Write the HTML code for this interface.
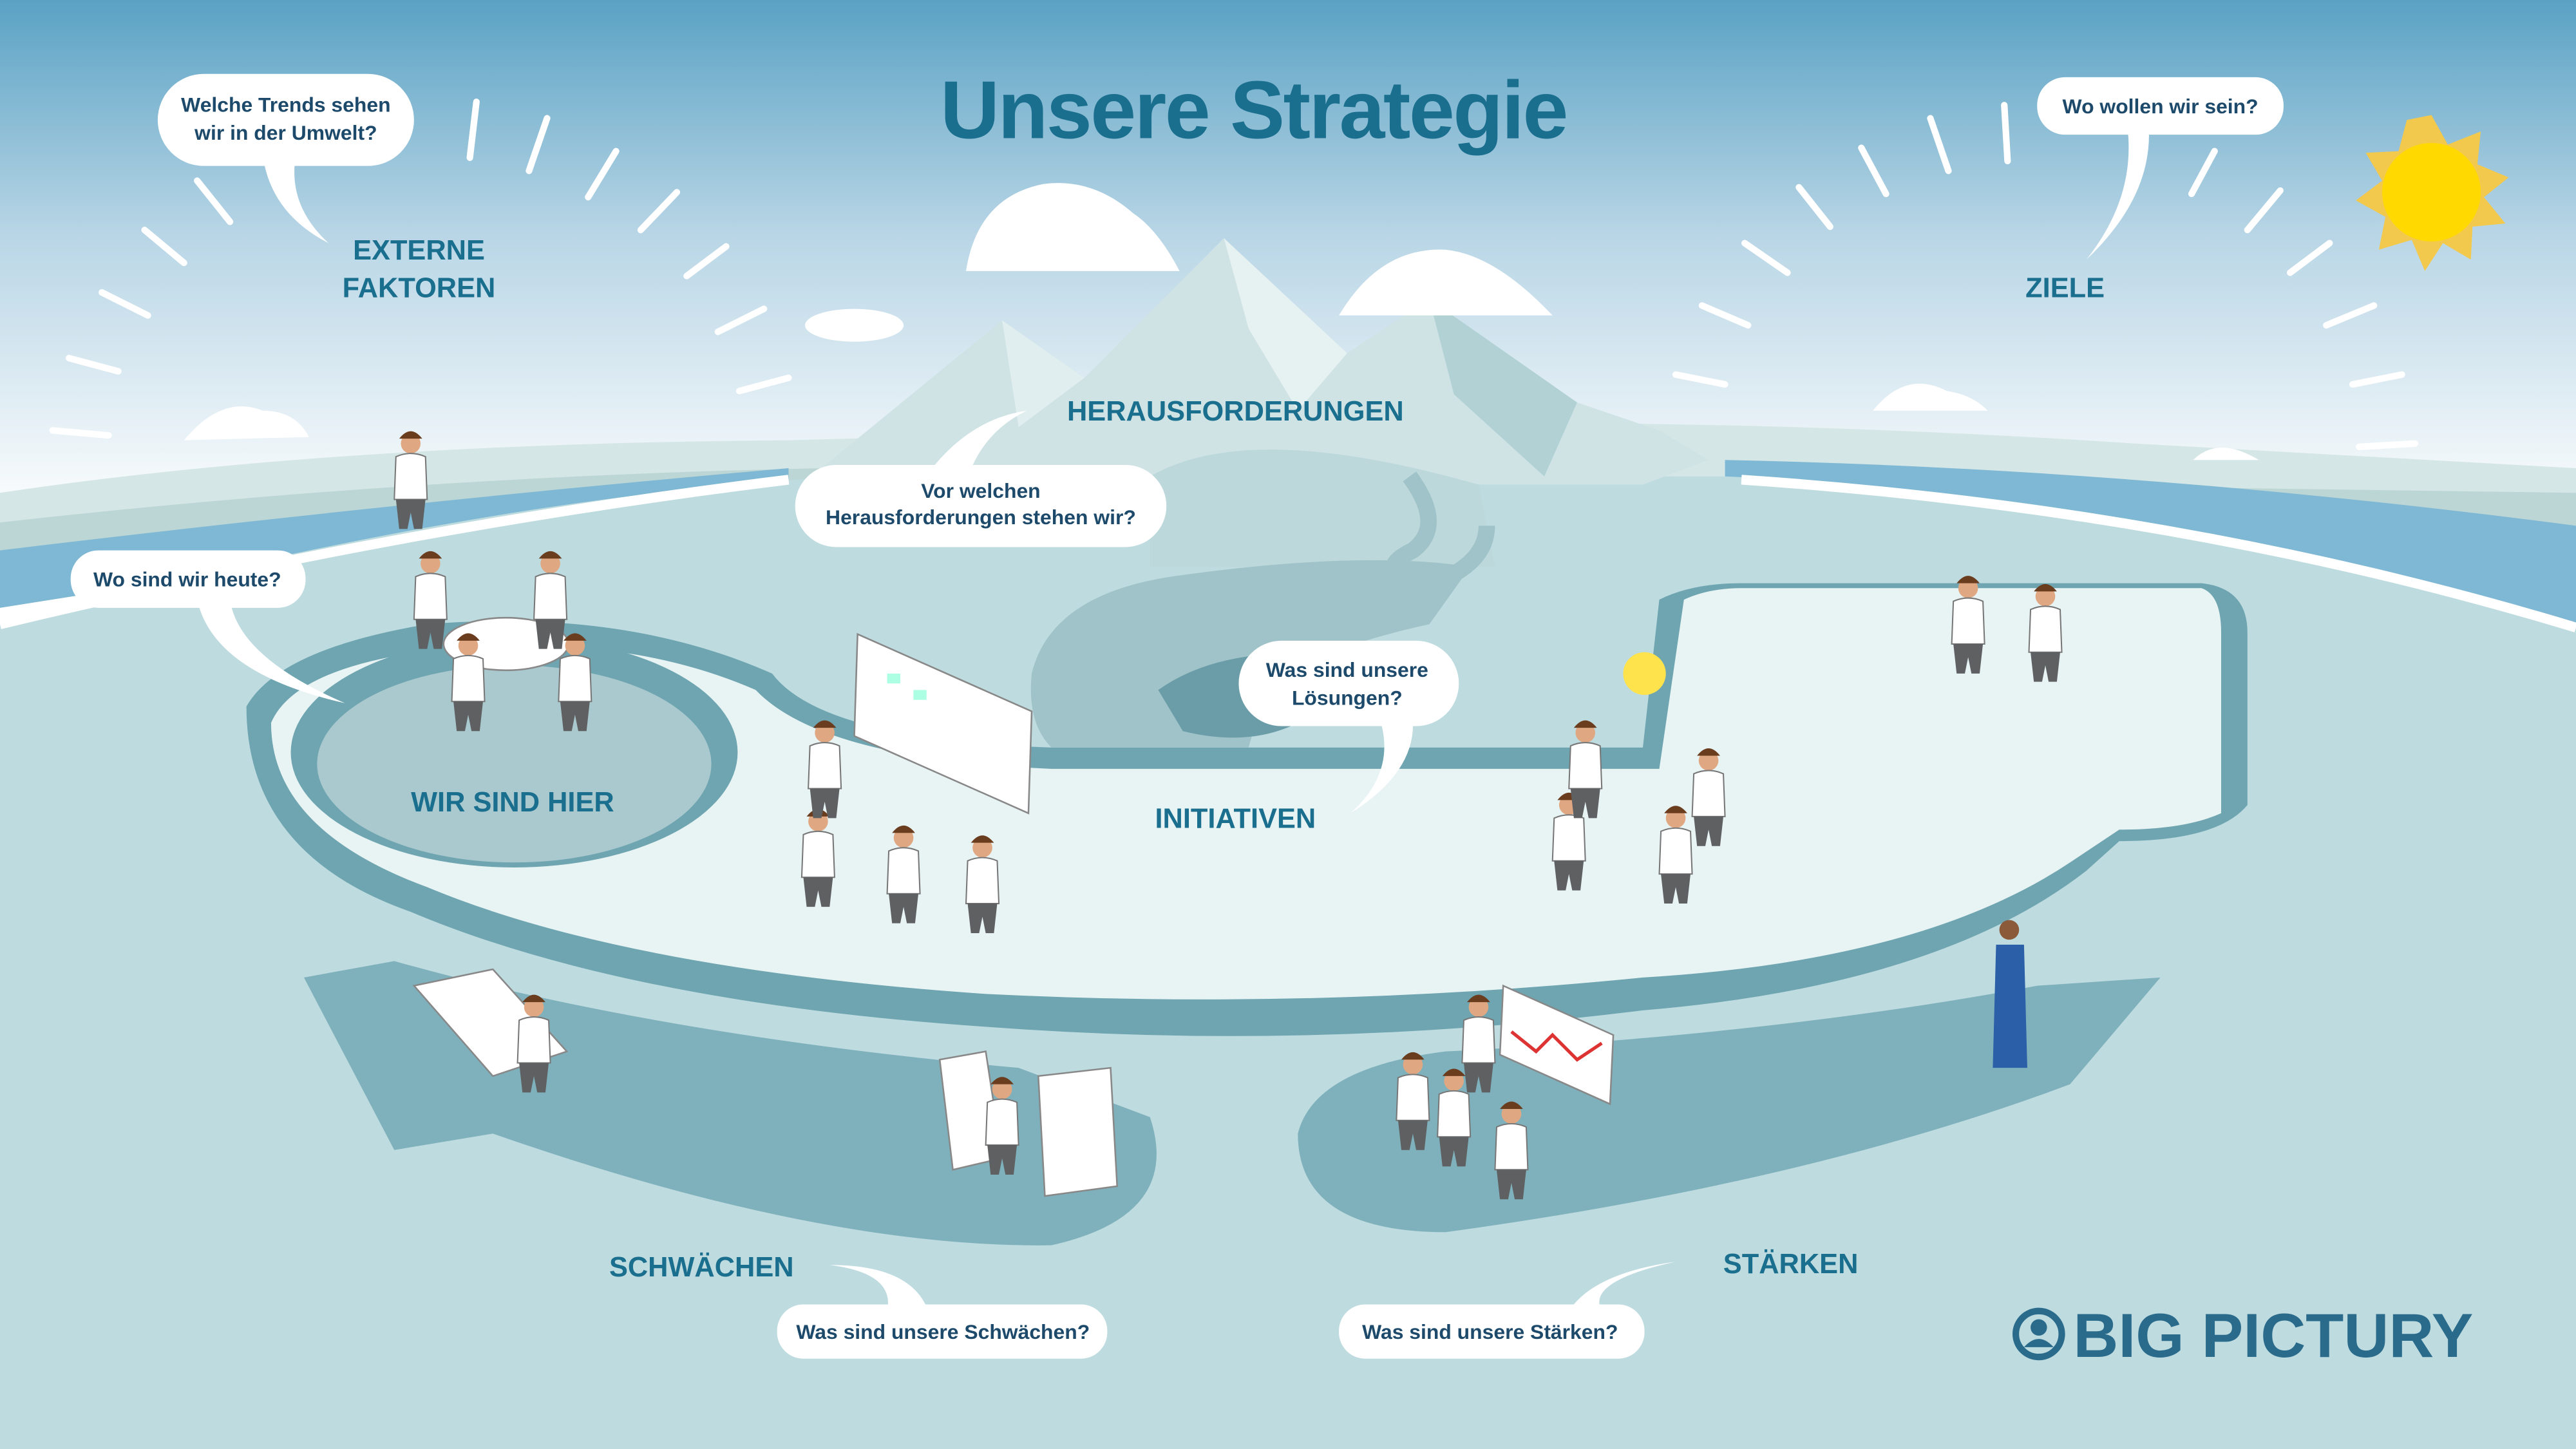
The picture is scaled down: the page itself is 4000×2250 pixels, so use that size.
<!DOCTYPE html>
<html><head><meta charset="utf-8"><style>
html,body{margin:0;padding:0;width:4000px;height:2250px;overflow:hidden}
svg{display:block}
text{font-family:"Liberation Sans",sans-serif}
</style></head><body>
<svg width="4000" height="2250" viewBox="0 0 1568 882" xmlns="http://www.w3.org/2000/svg">
<defs>
<linearGradient id="sky" x1="0" y1="0" x2="0" y2="1">
<stop offset="0" stop-color="#5aa2c4"/><stop offset="0.45" stop-color="#b9d6e6"/><stop offset="1" stop-color="#ffffff"/>
</linearGradient>
<g id="p">
<circle cx="0" cy="-52" r="6" fill="#e0a882"/>
<path d="M-7 -55 Q0 -64 7 -55Z" fill="#6b3d1f"/>
<path d="M-9 -44 Q0 -48 9 -44 L10 -18 L-10 -18Z" fill="#fff" stroke="#777" stroke-width="0.8"/>
<path d="M-9 -18 L9 -18 L7 0 L2 0 L0 -10 L-2 0 L-7 0Z" fill="#5f6062"/>
</g>
</defs>
<rect width="1568" height="320" fill="url(#sky)"/>
<path d="M0 300 Q200 270 480 268 L700 262 Q1000 250 1300 270 L1568 285 L1568 340 L0 340Z" fill="#d5e6e6"/>
<path d="M0 318 Q250 290 500 285 L1568 300 L1568 340 L0 340Z" fill="#bcd6d6"/>
<path d="M0 335 Q250 305 480 285 L480 300 Q250 330 0 370Z" fill="#7fb8d4"/>
<path d="M1050 280 Q1300 285 1568 320 L1568 380 Q1300 320 1050 300Z" fill="#7fb8d4"/>
<path d="M0 380 Q300 300 520 290 L1050 290 Q1300 300 1568 380 L1568 882 L0 882Z" fill="#bedbdf"/>
<path d="M0 380 Q250 320 480 292" stroke="#fff" stroke-width="6" fill="none"/>
<path d="M1060 292 Q1330 310 1568 382" stroke="#fff" stroke-width="6" fill="none"/>
<!-- mountains -->
<path d="M500 285 L610 195 L660 230 L745 145 L820 215 L870 182 L960 245 L1010 262 L1040 280 L1000 295 L500 295Z" fill="#cfe3e5"/>
<path d="M745 145 L820 215 L790 250 L760 200Z" fill="#e6f1f2"/>
<path d="M870 182 L960 245 L940 290 L885 240Z" fill="#b2d1d5"/>
<path d="M610 195 L660 230 L620 260Z" fill="#e0eeef"/>
<path d="M700 290 Q760 255 900 295 L910 345 L700 345Z" fill="#bcd8db"/>
<g fill="#fff">
<path d="M588 165 Q595 120 635 112 Q665 108 690 130 Q705 140 718 165Z"/>
<path d="M815 192 Q840 150 880 152 Q910 155 945 192Z"/>
<ellipse cx="520" cy="198" rx="30" ry="10"/>
<path d="M112 268 Q135 240 160 250 Q180 250 188 266Z"/>
<path d="M1140 250 Q1160 225 1185 238 Q1200 240 1210 250Z"/>
<path d="M1335 280 Q1350 265 1375 280Z"/>
</g>
<g stroke="#fff" stroke-width="4" stroke-linecap="round">
<line x1="120" y1="110" x2="140" y2="135"/><line x1="88" y1="140" x2="112" y2="160"/><line x1="62" y1="178" x2="90" y2="192"/><line x1="42" y1="218" x2="72" y2="226"/><line x1="32" y1="262" x2="66" y2="265"/>
<line x1="290" y1="62" x2="286" y2="96"/><line x1="333" y1="72" x2="322" y2="104"/><line x1="375" y1="92" x2="358" y2="120"/><line x1="412" y1="117" x2="390" y2="140"/><line x1="442" y1="150" x2="418" y2="168"/><line x1="465" y1="188" x2="437" y2="202"/><line x1="480" y1="230" x2="450" y2="238"/>
<line x1="1220" y1="64" x2="1222" y2="98"/><line x1="1175" y1="72" x2="1186" y2="104"/><line x1="1133" y1="90" x2="1148" y2="118"/><line x1="1095" y1="114" x2="1114" y2="138"/><line x1="1062" y1="148" x2="1088" y2="166"/><line x1="1036" y1="186" x2="1064" y2="198"/><line x1="1020" y1="228" x2="1050" y2="234"/>
<line x1="1348" y1="92" x2="1334" y2="118"/><line x1="1388" y1="116" x2="1368" y2="140"/><line x1="1418" y1="148" x2="1394" y2="166"/><line x1="1445" y1="186" x2="1416" y2="198"/><line x1="1462" y1="228" x2="1432" y2="234"/><line x1="1470" y1="270" x2="1436" y2="272"/>
</g>
<g fill="#f2c94c">
<polygon points="1480,70 1490,88 1510,80 1508,100 1527,108 1512,120 1525,136 1505,138 1504,158 1487,148 1476,165 1468,146 1448,152 1452,132 1434,122 1450,110 1440,93 1460,92 1465,73"/>
</g>
<circle cx="1480" cy="117" r="30" fill="#ffd900"/>
<!-- platform -->
<path d="M150 430 Q170 395 260 380 Q380 370 470 410 Q500 450 640 455 L1000 455 L1010 365 Q1030 355 1060 355 L1340 355 Q1368 358 1368 385 L1368 490 Q1350 512 1290 512 L1270 530 Q1180 600 1000 615 Q800 640 600 625 Q380 610 250 555 Q150 520 150 430Z" fill="#6ea5b1"/>
<path d="M165 440 Q180 405 270 395 Q380 385 460 420 Q500 462 640 468 L1010 468 L1025 365 Q1040 358 1060 358 L1340 358 Q1352 362 1352 385 L1352 495 Q1330 505 1290 505 L1260 525 Q1170 585 1000 595 Q800 615 600 605 Q380 590 260 540 Q165 505 165 440Z" fill="#e8f3f3"/>
<path d="M628 410 Q640 360 720 350 Q830 335 895 345 L870 380 Q800 395 770 420 L760 455 L640 455 Q625 440 628 410Z" fill="#9fc3c8"/>
<path d="M705 420 Q740 395 800 398 L790 440 Q760 455 720 445Z" fill="#6b9da8"/>
<path d="M858 290 Q880 320 860 335 Q830 350 880 352 Q905 340 905 320" stroke="#9fc3c8" stroke-width="10" fill="none"/>
<ellipse cx="313" cy="458" rx="136" ry="70" fill="#6ea5b1"/>
<ellipse cx="313" cy="465" rx="120" ry="60" fill="#aac9ce"/>
<path d="M185 595 L240 585 Q400 630 620 650 L700 680 Q720 740 640 758 Q500 760 300 690 L240 700 Z" fill="#7fb1bc"/>
<path d="M790 690 Q800 650 880 640 Q1080 630 1240 600 L1315 595 L1260 660 Q1100 720 880 750 Q790 750 790 690Z" fill="#7fb1bc"/>
<!-- props -->
<g fill="#fff" stroke="#888" stroke-width="1">
<ellipse cx="308" cy="392" rx="38" ry="16"/>
<polygon points="522,386 628,433 626,495 520,448"/>
<polygon points="915,600 982,630 980,672 913,642"/>
<polygon points="252,600 300,590 345,640 300,655"/>
<polygon points="572,645 600,640 610,705 580,712"/>
<polygon points="632,655 676,650 680,722 636,728"/>
</g>
<polyline points="920,628 935,640 945,630 960,645 975,635" stroke="#d33" stroke-width="2" fill="none"/>
<g fill="#9fd" opacity="0.8"><rect x="540" y="410" width="8" height="6"/><rect x="556" y="420" width="8" height="6"/></g>
<!-- people -->
<use href="#p" x="250" y="322"/>
<use href="#p" x="262" y="395"/><use href="#p" x="335" y="395"/><use href="#p" x="285" y="445"/><use href="#p" x="350" y="445"/>
<use href="#p" x="498" y="552"/><use href="#p" x="550" y="562"/><use href="#p" x="598" y="568"/><use href="#p" x="502" y="498"/>
<use href="#p" x="955" y="542"/><use href="#p" x="1020" y="550"/><use href="#p" x="1040" y="515"/><use href="#p" x="965" y="498"/>
<use href="#p" x="1198" y="410"/><use href="#p" x="1245" y="415"/>
<use href="#p" x="325" y="665"/><use href="#p" x="610" y="715"/>
<use href="#p" x="900" y="665"/><use href="#p" x="860" y="700"/><use href="#p" x="885" y="710"/><use href="#p" x="920" y="730"/>
<path d="M1215 575 L1232 575 L1234 650 L1213 650Z" fill="#2b5fa8"/>
<circle cx="1223" cy="566" r="6" fill="#8a5a3a"/>
<circle cx="1001" cy="410" r="13" fill="#ffe34d"/>
<text x="763" y="84" font-size="50" font-weight="bold" fill="#1a6e8e" text-anchor="middle" letter-spacing="-1">Unsere Strategie</text>
<g font-size="17" fill="#1a6e8e" font-weight="bold" text-anchor="middle">
<text x="255" y="158">EXTERNE</text><text x="255" y="181">FAKTOREN</text>
<text x="1257" y="181">ZIELE</text>
<text x="752" y="256">HERAUSFORDERUNGEN</text>
<text x="752" y="504">INITIATIVEN</text>
<text x="312" y="494">WIR SIND HIER</text>
<text x="427" y="777">SCHWÄCHEN</text>
<text x="1090" y="775">STÄRKEN</text>
</g>
<g fill="#fff">
<rect x="96" y="45" width="156" height="56" rx="28"/><path d="M160 95 Q165 130 200 148 Q175 125 180 95Z"/>
<rect x="1240" y="47" width="150" height="35" rx="17"/><path d="M1295 78 Q1300 120 1270 158 Q1310 120 1308 78Z"/>
<rect x="43" y="335" width="143" height="35" rx="17"/><path d="M120 365 Q130 410 210 428 Q145 400 140 365Z"/>
<rect x="484" y="283" width="226" height="50" rx="25"/><path d="M565 288 Q590 255 625 250 Q600 262 590 288Z"/>
<rect x="754" y="390" width="134" height="52" rx="26"/><path d="M840 438 Q850 470 822 495 Q862 470 860 438Z"/>
<rect x="473" y="794" width="201" height="33" rx="16"/><path d="M540 798 Q545 775 505 770 Q555 770 565 798Z"/>
<rect x="815" y="794" width="186" height="33" rx="16"/><path d="M955 798 Q970 775 1020 768 Q965 780 975 798Z"/>
</g>
<g font-size="12.5" fill="#1d4a6b" text-anchor="middle" font-weight="bold">
<text x="174" y="68">Welche Trends sehen</text><text x="174" y="85">wir in der Umwelt?</text>
<text x="1315" y="69">Wo wollen wir sein?</text>
<text x="114" y="357">Wo sind wir heute?</text>
<text x="597" y="303">Vor welchen</text><text x="597" y="319">Herausforderungen stehen wir?</text>
<text x="820" y="412">Was sind unsere</text><text x="820" y="429">Lösungen?</text>
<text x="574" y="815">Was sind unsere Schwächen?</text>
<text x="907" y="815">Was sind unsere Stärken?</text>
</g>
<circle cx="1241" cy="812" r="14" fill="none" stroke="#2a6b8c" stroke-width="4"/>
<circle cx="1241" cy="808" r="5" fill="#2a6b8c"/>
<path d="M1232 820 Q1241 810 1250 820" fill="#2a6b8c"/>
<text x="1262" y="826" font-size="38" font-weight="bold" fill="#2a6b8c">BIG PICTURY</text>
</svg>
</body></html>
